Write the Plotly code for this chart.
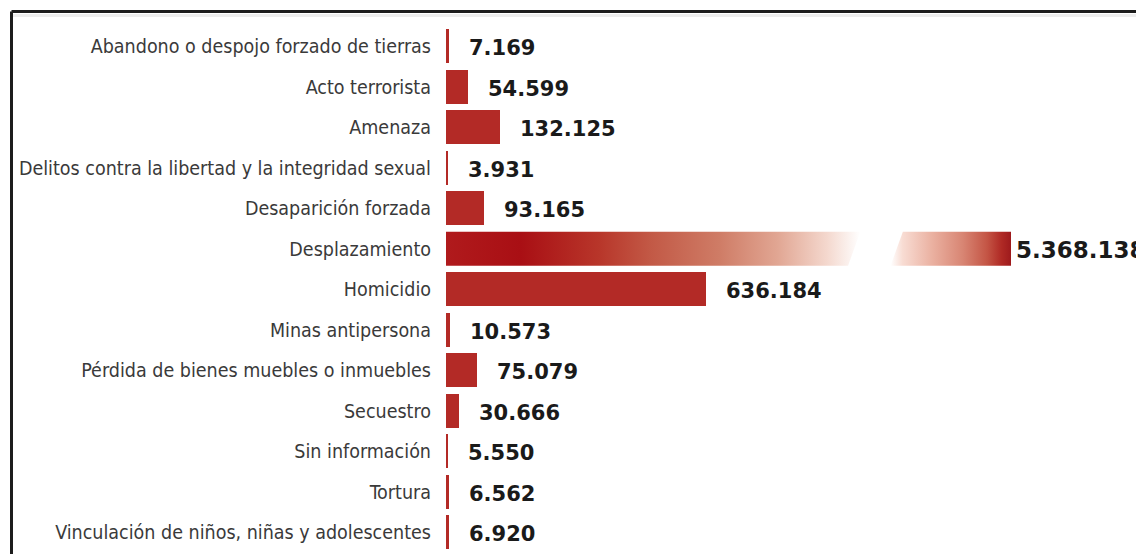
import plotly.graph_objects as go

categories = [
    "Abandono o despojo forzado de tierras",
    "Acto terrorista",
    "Amenaza",
    "Delitos contra la libertad y la integridad sexual",
    "Desaparición forzada",
    "Desplazamiento",
    "Homicidio",
    "Minas antipersona",
    "Pérdida de bienes muebles o inmuebles",
    "Secuestro",
    "Sin información",
    "Tortura",
    "Vinculación de niños, niñas y adolescentes",
]
values = [7169, 54599, 132125, 3931, 93165, 5368138, 636184, 10573, 75079, 30666, 5550, 6562, 6920]
broken_category = "Desplazamiento"

# axis-break settings (in data units)
K = 2450                # data units per pixel on the main scale
BREAK_AT = 1_000_000    # where the long bar is cut on the main axis
RESUME_SPAN = 280_000   # visible span of the long bar on the second axis
SLANT = 15_000          # half-width of the slanted cut

# page has an 8px body margin
W, H = 1144, 546
ML, MR, MT, MB = 438, 8, 18, 0
PW, PH = W - ML - MR, H - MT - MB
ROW = 40.5
END2 = 565              # plot-pixel where the long bar ends

BAR_COLOR = "#b32a26"
BAR_W = 0.84
LABEL_FONT = "DejaVu Sans Condensed, Roboto, Arial, sans-serif"
VALUE_FONT = "DejaVu Sans, Verdana, sans-serif"


def fmt(v):
    return f"{v:,}".replace(",", ".")


idx = list(range(len(categories)))
bi = categories.index(broken_category)
vmax = values[bi]

fig = go.Figure()

# regular bars
reg_y = [i for i in idx if i != bi]
reg_x = [values[i] for i in reg_y]
fig.add_trace(go.Bar(
    y=reg_y, x=reg_x, orientation="h", width=BAR_W,
    marker=dict(color=BAR_COLOR, line=dict(width=0)),
    hoverinfo="skip", showlegend=False,
))

h = BAR_W / 2
# first part of the broken bar (main axis)
fig.add_trace(go.Scatter(
    x=[0, BREAK_AT + SLANT, BREAK_AT - SLANT, 0, 0],
    y=[bi - h, bi - h, bi + h, bi + h, bi - h],
    mode="lines", fill="toself", line=dict(width=0),
    fillgradient=dict(type="horizontal", colorscale=[
        [0.0, "#b01a1c"], [0.18, "#a90f14"], [0.37, "#b8362a"],
        [0.49, "#c25845"], [0.66, "#cf7c66"], [0.80, "#e1a693"],
        [0.92, "#f4d8ce"], [1.0, "#ffffff"],
    ]),
    hoverinfo="skip", showlegend=False,
))
# second part of the broken bar (second axis)
start2 = vmax - RESUME_SPAN
fig.add_trace(go.Scatter(
    x=[start2 + SLANT, vmax, vmax, start2 - SLANT, start2 + SLANT],
    y=[bi - h, bi - h, bi + h, bi + h, bi - h],
    xaxis="x2",
    mode="lines", fill="toself", line=dict(width=0),
    fillgradient=dict(type="horizontal", colorscale=[
        [0.0, "#ffffff"], [0.1, "#f8dcd3"], [0.35, "#eab0a0"],
        [0.6, "#d88573"], [0.8, "#c45545"], [0.92, "#b02a25"],
        [1.0, "#9e1a1c"],
    ]),
    hoverinfo="skip", showlegend=False,
))

annotations = []
for i in idx:
    if i == bi:
        annotations.append(dict(
            x=vmax, y=i, xref="x2", yref="y", text=fmt(values[i]),
            showarrow=False, xanchor="left", yanchor="middle", xshift=3, yshift=-1,
            font=dict(family=VALUE_FONT, size=23, color="#1a1a1a", weight="bold"),
        ))
    else:
        annotations.append(dict(
            x=values[i], y=i, xref="x", yref="y", text=fmt(values[i]),
            showarrow=False, xanchor="left", yanchor="middle", xshift=18, yshift=-2,
            font=dict(family=VALUE_FONT, size=21, color="#1a1a1a", weight="bold"),
        ))

# frame (top and left border)
fx = (3.5 - ML) / PW
fy = 1 + (MT - 3.5) / PH
shapes = [
    dict(type="line", xref="paper", yref="paper", x0=fx, x1=1.05, y0=fy - 4 / PH, y1=fy - 4 / PH,
         line=dict(color="#ededed", width=3)),
    dict(type="line", xref="paper", yref="paper", x0=fx, x1=1.05, y0=fy, y1=fy,
         line=dict(color="#1c1c1c", width=3)),
    dict(type="line", xref="paper", yref="paper", x0=fx, x1=fx, y0=-0.05, y1=fy,
         line=dict(color="#1c1c1c", width=3)),
]

fig.update_layout(
    template="none",
    width=W, height=H,
    margin=dict(l=ML, r=MR, t=MT, b=MB, pad=0),
    paper_bgcolor="white", plot_bgcolor="white",
    showlegend=False,
    bargap=0,
    xaxis=dict(range=[0, PW * K], visible=False, domain=[0, 1], fixedrange=True),
    xaxis2=dict(range=[vmax - END2 * K, vmax + (PW - END2) * K],
                overlaying="x", anchor="y", visible=False, fixedrange=True),
    yaxis=dict(
        range=[PH / ROW - 0.5, -0.5],
        tickmode="array", tickvals=idx, ticktext=categories,
        showgrid=False, zeroline=False, showline=False, ticks="",
        ticklabelstandoff=14, automargin=False,
        tickfont=dict(family=LABEL_FONT, size=19.5, color="#3a3a3a"),
        fixedrange=True,
    ),
    annotations=annotations,
    shapes=shapes,
)

fig.write_html("out.html")
